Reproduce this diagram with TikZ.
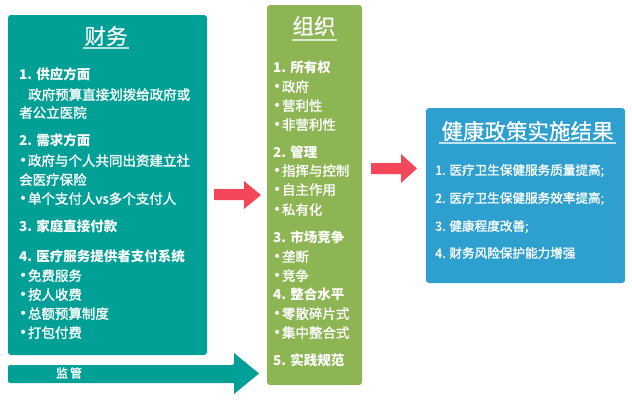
\documentclass[tikz,border=0pt]{standalone}
\usepackage{fontspec}
\setmainfont{Noto Sans CJK SC}[UprightFeatures={FakeBold=1.4}]
\newfontfamily\titlef{Noto Sans CJK SC}[FakeBold=0.6]
\newfontfamily\bulf{DejaVu Sans}
\newcommand{\bl}{{\bulf\fontsize{14}{14}\selectfont •}\hspace{0.5pt}}
\definecolor{tealc}{HTML}{00A096}
\definecolor{greenc}{HTML}{8DB554}
\definecolor{bluec}{HTML}{2EA0D0}
\definecolor{redc}{HTML}{F4485A}
\begin{document}
\begin{tikzpicture}[x=1pt,y=-1pt,
  panel/.style={rounded corners=3pt},
  line/.style={anchor=west,text=white,inner sep=0pt,font=\fontsize{13.5}{14}\selectfont,text height=10pt,text depth=2.5pt},
  head/.style={line,font=\fontsize{13.5}{14}\selectfont\bfseries},
  bline/.style={line,font=\fontsize{12.6}{14}\selectfont},
  title/.style={text=white,inner sep=0pt,font=\titlef\fontsize{21.5}{24}\selectfont},
  uline/.style={line width=1.6pt}]
\useasboundingbox (0,0) rectangle (632,407);
% panels
\fill[tealc,panel] (8,15) rectangle (207,355);
\fill[greenc,panel] (267,5) rectangle (362,385);
\fill[bluec,panel] (426,108) rectangle (625,283);
% arrows
\fill[redc] (214,189) -- (244,189) -- (244,181) -- (261,195) -- (244,209) -- (244,200) -- (214,200) -- cycle;
\fill[redc] (371,163) -- (401,163) -- (401,154) -- (417,168.5) -- (401,183) -- (401,174) -- (371,174) -- cycle;
\fill[tealc,rounded corners=2pt] (8,365) -- (234,365) [sharp corners] -- (234,365) -- (234,353) -- (259,373.5) -- (234,394) -- (234,383) [rounded corners=2pt] -- (8,383) -- cycle;
\node[text=white,inner sep=0pt,font=\fontsize{12}{14}\selectfont] (jg) at (69,373) {监\,管};
% titles
\node[title] (t1) at (106,36) {财务};
\draw[uline,white!70!tealc] (83,48) -- (129,48);
\node[title] (t2) at (314,26) {组织};
\draw[uline,white!70!greenc] (292,40) -- (337,40);
\node[title] (t3) at (527.5,131) {健康政策实施结果};
\draw[uline,white!70!bluec] (439,143) -- (616,143);
% finance lines
\node[head] (f1) at (19,76) {1. 供应方面};
\node[line] (f2) at (19,96) {\hspace{9pt}政府预算直接划拨给政府或};
\node[line] (f3) at (19,114) {者公立医院};
\node[head] (f4) at (19,142) {2. 需求方面};
\node[line] (f5) at (19,162) {\bl 政府与个人共同出资建立社};
\node[line] (f6) at (19,181) {会医疗保险};
\node[line] (f7) at (19,200) {\bl 单个支付人vs多个支付人};
\node[head] (f8) at (19,228) {3. 家庭直接付款};
\node[head] (f9) at (19,258) {4. 医疗服务提供者支付系统};
\node[line] (f10) at (19,277) {\bl 免费服务};
\node[line] (f11) at (19,296) {\bl 按人收费};
\node[line] (f12) at (19,315) {\bl 总额预算制度};
\node[line] (f13) at (19,334) {\bl 打包付费};
% organisation lines
\node[head] (o1) at (273,69) {1. 所有权};
\node[line] (o2) at (273,88) {\bl 政府};
\node[line] (o3) at (273,107) {\bl 营利性};
\node[line] (o4) at (273,126) {\bl 非营利性};
\node[head] (o5) at (273,154) {2. 管理};
\node[line] (o6) at (273,172) {\bl 指挥与控制};
\node[line] (o7) at (273,191) {\bl 自主作用};
\node[line] (o8) at (273,211) {\bl 私有化};
\node[head] (o9) at (273,239) {3. 市场竞争};
\node[line] (o10) at (273,258) {\bl 垄断};
\node[line] (o11) at (273,277) {\bl 竞争};
\node[head] (o12) at (273,296) {4. 整合水平};
\node[line] (o13) at (273,315) {\bl 零散碎片式};
\node[line] (o14) at (273,334) {\bl 集中整合式};
\node[head] (o15) at (273,362) {5. 实践规范};
% outcome lines
\node[bline] (r1) at (435,171) {1. 医疗卫生保健服务质量提高;};
\node[bline] (r2) at (435,199) {2. 医疗卫生保健服务效率提高;};
\node[bline] (r3) at (435,227) {3. 健康程度改善;};
\node[bline] (r4) at (435,254) {4. 财务风险保护能力增强};
\end{tikzpicture}
\end{document}
